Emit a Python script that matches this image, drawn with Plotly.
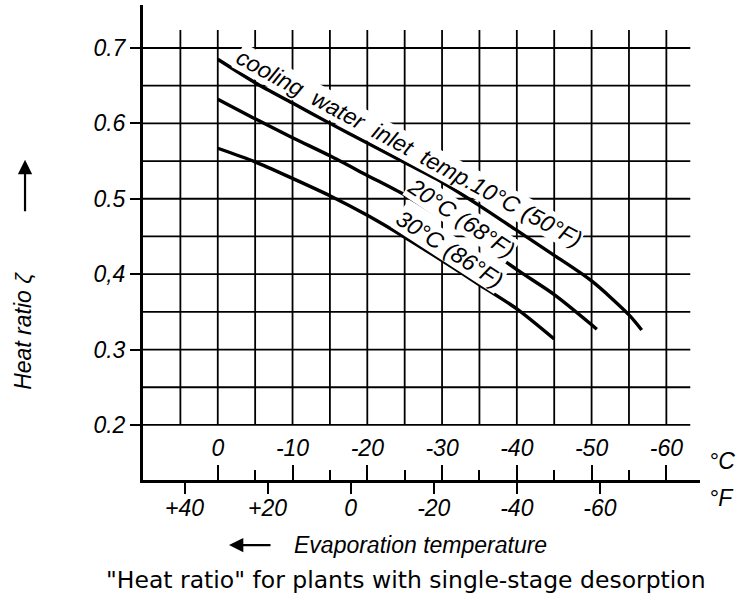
import plotly.graph_objects as go

# Evaporation temperature in °C and heat ratio ζ for each cooling water inlet temperature
evap_c_10 = [0, -5, -10, -15, -20, -25, -30, -35, -40, -45, -50, -55, -56.7]
zeta_10 = [0.685, 0.654, 0.627, 0.600, 0.574, 0.548, 0.522, 0.491, 0.458, 0.425, 0.391, 0.346, 0.326]

evap_c_20 = [0, -5, -10, -15, -20, -25, -30, -35, -40, -45, -50, -50.7]
zeta_20 = [0.632, 0.606, 0.581, 0.557, 0.531, 0.505, 0.474, 0.441, 0.406, 0.373, 0.333, 0.327]

evap_c_30 = [0, -5, -10, -15, -20, -25, -30, -35, -40, -45]
zeta_30 = [0.567, 0.549, 0.527, 0.504, 0.478, 0.449, 0.418, 0.386, 0.354, 0.314]

curve_labels = ["cooling\u00a0 water\u00a0 inlet\u00a0 temp.10°C (50°F)", "20°C (68°F)", "30°C (86°F)"]

# Axis ticks
y_ticks = [0.2, 0.3, 0.4, 0.5, 0.6, 0.7]
y_tick_text = ["0.2", "0.3", "0,4", "0.5", "0.6", "0.7"]
c_ticks = [0, -10, -20, -30, -40, -50, -60]
c_tick_text = ["0", "-10", "-20", "-30", "-40", "-50", "-60"]
c_minor = [-5, -15, -25, -35, -45, -55]
f_ticks = [40, 20, 0, -20, -40, -60]
f_tick_text = ["+40", "+20", "0", "-20", "-40", "-60"]

# Chart grid (every 5 °C and every 0.05 of ζ)
grid_c = [5, 0, -5, -10, -15, -20, -25, -30, -35, -40, -45, -50, -55, -60]
grid_zeta = [0.2, 0.25, 0.3, 0.35, 0.4, 0.45, 0.5, 0.55, 0.6, 0.65, 0.7]

X_RANGE = [10, -64.5]
Y_RANGE = [0.127, 0.757]
GRID_C_END = -63.2
GRID_Z_TOP = 0.724


def c_to_f(c):
    return c * 9 / 5 + 32


ITALIC = dict(family="Liberation Sans", size=23, color="black", style="italic")

fig = go.Figure()

for xs, ys in [(evap_c_10, zeta_10), (evap_c_20, zeta_20), (evap_c_30, zeta_30)]:
    fig.add_trace(go.Scatter(x=xs, y=ys, mode="lines",
                             line=dict(color="black", width=3.4, shape="spline", smoothing=0.8),
                             showlegend=False, hoverinfo="skip"))

# companion trace so the °F scale is laid out
fig.add_trace(go.Scatter(x=[c_to_f(X_RANGE[0]), c_to_f(X_RANGE[1])], y=[None, None],
                         xaxis="x2", mode="lines", showlegend=False, hoverinfo="skip"))

shapes = []
for c in grid_c:
    shapes.append(dict(type="line", xref="x", yref="y", x0=c, x1=c,
                       y0=grid_zeta[0], y1=GRID_Z_TOP, layer="below",
                       line=dict(color="black", width=1.8)))
for z in grid_zeta:
    shapes.append(dict(type="line", xref="x", yref="y", x0=X_RANGE[0], x1=GRID_C_END,
                       y0=z, y1=z, layer="below",
                       line=dict(color="black", width=1.8)))

annotations = [
    dict(x=-25.6, y=0.568, xref="x", yref="y", text=curve_labels[0], textangle=28.5,
         showarrow=False, font=ITALIC, bgcolor="white", borderpad=0),
    dict(x=-32.6, y=0.475, xref="x", yref="y", text=curve_labels[1], textangle=34,
         showarrow=False, font=ITALIC, bgcolor="white", borderpad=0),
    dict(x=-31.0, y=0.434, xref="x", yref="y", text=curve_labels[2], textangle=33,
         showarrow=False, font=ITALIC, bgcolor="white", borderpad=0),
    # unit labels at the right end of the temperature scales
    dict(x=1.013, y=0.040, xref="paper", yref="paper", text="°C",
         xanchor="left", yanchor="middle", showarrow=False, font=ITALIC),
    dict(x=1.013, y=-0.038, xref="paper", yref="paper", text="°F",
         xanchor="left", yanchor="middle", showarrow=False, font=ITALIC),
    # vertical axis title with arrow
    dict(x=-0.2154, y=0.314, xref="paper", yref="paper", text="Heat ratio ζ", textangle=-90,
         xanchor="center", yanchor="middle", showarrow=False, font=ITALIC),
    dict(x=-0.2118, y=0.674, xref="paper", yref="paper", text="", showarrow=True,
         ax=0, ay=53, arrowhead=2, arrowsize=1.3, arrowwidth=2.2, arrowcolor="black"),
    # horizontal axis title with arrow
    dict(x=0.2675, y=-0.137, xref="paper", yref="paper", text="Evaporation temperature",
         xanchor="left", yanchor="middle", showarrow=False, font=ITALIC),
    dict(x=0.1544, y=-0.137, xref="paper", yref="paper", text="", showarrow=True,
         ax=43, ay=0, arrowhead=2, arrowsize=1.3, arrowwidth=2.2, arrowcolor="black"),
    # caption
    dict(x=0.472, y=-0.2105, xref="paper", yref="paper",
         text="\"Heat ratio\" for plants with single-stage desorption",
         xanchor="center", yanchor="middle", showarrow=False,
         font=dict(family="DejaVu Sans", size=23.5, color="black")),
]

fig.update_layout(
    width=737, height=601,
    margin=dict(l=143, r=37, t=5, b=121),
    paper_bgcolor="white", plot_bgcolor="white",
    shapes=shapes, annotations=annotations,
    xaxis=dict(range=X_RANGE, showgrid=False, zeroline=False,
               showline=True, linewidth=3, linecolor="black",
               tickmode="array", tickvals=c_ticks, ticktext=c_tick_text,
               ticks="inside", ticklen=15, tickwidth=2, tickcolor="black",
               ticklabelposition="inside", ticklabelstandoff=6, tickfont=ITALIC,
               minor=dict(tickvals=c_minor, ticks="inside", ticklen=10,
                          tickwidth=2, tickcolor="black")),
    xaxis2=dict(range=[c_to_f(X_RANGE[0]), c_to_f(X_RANGE[1])], overlaying="x",
                anchor="y", side="bottom", showgrid=False, zeroline=False,
                showline=False, tickmode="array", tickvals=f_ticks, ticktext=f_tick_text,
                ticks="outside", ticklen=13, tickwidth=2, tickcolor="black",
                ticklabelstandoff=-6, tickfont=ITALIC),
    yaxis=dict(range=Y_RANGE, showgrid=False, zeroline=False,
               showline=True, linewidth=3, linecolor="black",
               tickmode="array", tickvals=y_ticks, ticktext=y_tick_text,
               ticks="outside", ticklen=10, tickwidth=2, tickcolor="black",
               tickfont=ITALIC),
)

fig.write_html("out.html")
